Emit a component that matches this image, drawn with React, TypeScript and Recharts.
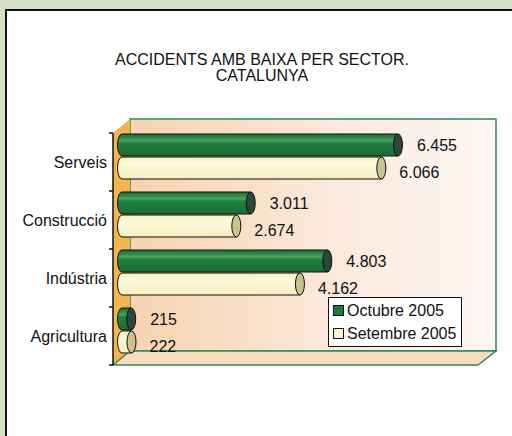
import { Bar, BarChart, LabelList, XAxis, YAxis } from "recharts";

const sectors = ["Serveis", "Construcció", "Indústria", "Agricultura"];
const octubre2005 = [6455, 3011, 4803, 215];
const setembre2005 = [6066, 2674, 4162, 222];
const seriesNames = ["Octubre 2005", "Setembre 2005"];

const data = sectors.map((sector, i) => ({
    sector,
    octubre: octubre2005[i],
    setembre: setembre2005[i],
}));

const FONT = "'Liberation Sans', Arial, sans-serif";
const SHIFT = 6; // bars sit a little back in the 3D box

// thousands with a dot, like the original
const fmt = (v: number) => String(v).replace(/\B(?=(\d{3})+(?!\d))/g, ".");

const makeCylinder = (body: string, cap: string) => (props: any) => {
    const { x, y, width, height } = props;
    if (width == null || height == null) return null;
    const top = y - SHIFT;
    const rx = 4.5;
    const ry = height / 2;
    const xe = x + width;
    return (
        <g>
            <path
                d={`M${x},${top} L${xe},${top} L${xe},${top + height} L${x},${top + height} A${rx},${ry} 0 0 1 ${x},${top} Z`}
                fill={body}
                stroke="#111"
                strokeWidth={1}
            />
            <ellipse cx={xe} cy={top + ry} rx={rx} ry={ry} fill={cap} stroke="#111" strokeWidth={1} />
        </g>
    );
};

const makeLabel = (dx: number, dy: number) => (props: any) => {
    const vb = props.viewBox ?? props;
    const { x, y, width, height } = vb;
    return (
        <text
            x={x + width + dx}
            y={y - SHIFT + height / 2 + dy}
            dominantBaseline="central"
            fontFamily={FONT}
            fontSize={16}
            fill="#111"
        >
            {fmt(Number(props.value))}
        </text>
    );
};

function Box3D() {
    const ticks = [133, 191, 249, 307, 365];
    return (
        <svg width={512} height={436} style={{ position: "absolute", left: 0, top: 0 }}>
            <defs>
                <linearGradient id="wallGrad" x1="0" y1="0" x2="1" y2="0">
                    <stop offset="0%" stopColor="#f7d3ae" />
                    <stop offset="55%" stopColor="#fbe9dc" />
                    <stop offset="100%" stopColor="#fdf7f4" />
                </linearGradient>
                <linearGradient id="greenGrad" x1="0" y1="0" x2="0" y2="1">
                    <stop offset="0%" stopColor="#1c6a35" />
                    <stop offset="18%" stopColor="#2f8a4a" />
                    <stop offset="30%" stopColor="#4aa363" />
                    <stop offset="42%" stopColor="#22803f" />
                    <stop offset="100%" stopColor="#1c6b36" />
                </linearGradient>
                <linearGradient id="creamGrad" x1="0" y1="0" x2="0" y2="1">
                    <stop offset="0%" stopColor="#f6f0c0" />
                    <stop offset="30%" stopColor="#fdfadc" />
                    <stop offset="100%" stopColor="#f5efbf" />
                </linearGradient>
            </defs>
            <rect x={130} y={119} width={366} height={232} fill="url(#wallGrad)" stroke="#2e8b57" strokeWidth={1.5} />
            <polygon points="113,133 130,119 130,351 113,365" fill="#f2b44e" />
            <polygon points="113,365 130,351 496,351 478,365" fill="#f9dcc0" stroke="#2e8b57" strokeWidth={1.5} />
            <line x1={113} y1={133} x2={113} y2={365} stroke="#111" strokeWidth={1.5} />
            {ticks.map((t) => (
                <line key={t} x1={109} y1={t} x2={113} y2={t} stroke="#111" strokeWidth={1.5} />
            ))}
        </svg>
    );
}

export default function App() {
    return (
        <div style={{ position: "absolute", left: 0, top: 0, width: 512, height: 436, background: "#d4e0c5", overflow: "hidden" }}>
            <div
                style={{
                    position: "absolute",
                    left: 5,
                    top: 9,
                    width: 520,
                    height: 440,
                    background: "#fff",
                    borderLeft: "2px solid #111",
                    borderTop: "2px solid #111",
                }}
            />
            <div
                style={{
                    position: "absolute",
                    left: 42,
                    top: 52,
                    width: 440,
                    textAlign: "center",
                    fontFamily: FONT,
                    fontSize: 16,
                    lineHeight: "16px",
                    color: "#111",
                }}
            >
                ACCIDENTS AMB BAIXA PER SECTOR.
                <br />
                CATALUNYA
            </div>
            <Box3D />
            <div style={{ position: "absolute", left: 0, top: 0 }}>
                <BarChart
                    width={512}
                    height={436}
                    data={data}
                    layout="vertical"
                    margin={{ top: 133, right: 48, bottom: 71, left: 18 }}
                    barSize={22}
                    barGap={1}
                >
                    <XAxis type="number" domain={[0, 8000]} hide />
                    <YAxis
                        type="category"
                        dataKey="sector"
                        width={104}
                        axisLine={false}
                        tickLine={false}
                        tickSize={6}
                        tickMargin={9}
                        tick={{ fontFamily: FONT, fontSize: 16, fill: "#111" }}
                    />
                    <Bar
                        dataKey="octubre"
                        name={seriesNames[0]}
                        shape={makeCylinder("url(#greenGrad)", "#2b463a")}
                        isAnimationActive={false}
                    >
                        <LabelList dataKey="octubre" content={makeLabel(19, 0)} />
                    </Bar>
                    <Bar
                        dataKey="setembre"
                        name={seriesNames[1]}
                        shape={makeCylinder("url(#creamGrad)", "#c9c48c")}
                        isAnimationActive={false}
                    >
                        <LabelList dataKey="setembre" content={makeLabel(18, 4)} />
                    </Bar>
                </BarChart>
            </div>
            <div
                style={{
                    position: "absolute",
                    left: 328,
                    top: 297,
                    width: 134,
                    height: 50,
                    border: "1.5px solid #111",
                    background: "#fff",
                    fontFamily: FONT,
                    fontSize: 16,
                    color: "#111",
                    padding: "1px 0 0 4px",
                    boxSizing: "border-box",
                }}
            >
                {seriesNames.map((name, i) => (
                    <div key={name} style={{ display: "flex", alignItems: "center", height: 23 }}>
                        <span
                            style={{
                                display: "inline-block",
                                width: 9,
                                height: 9,
                                border: "1px solid #111",
                                background: i === 0 ? "#1f7a3c" : "#fbf6c9",
                                marginRight: 3,
                            }}
                        />
                        {name}
                    </div>
                ))}
            </div>
        </div>
    );
}
